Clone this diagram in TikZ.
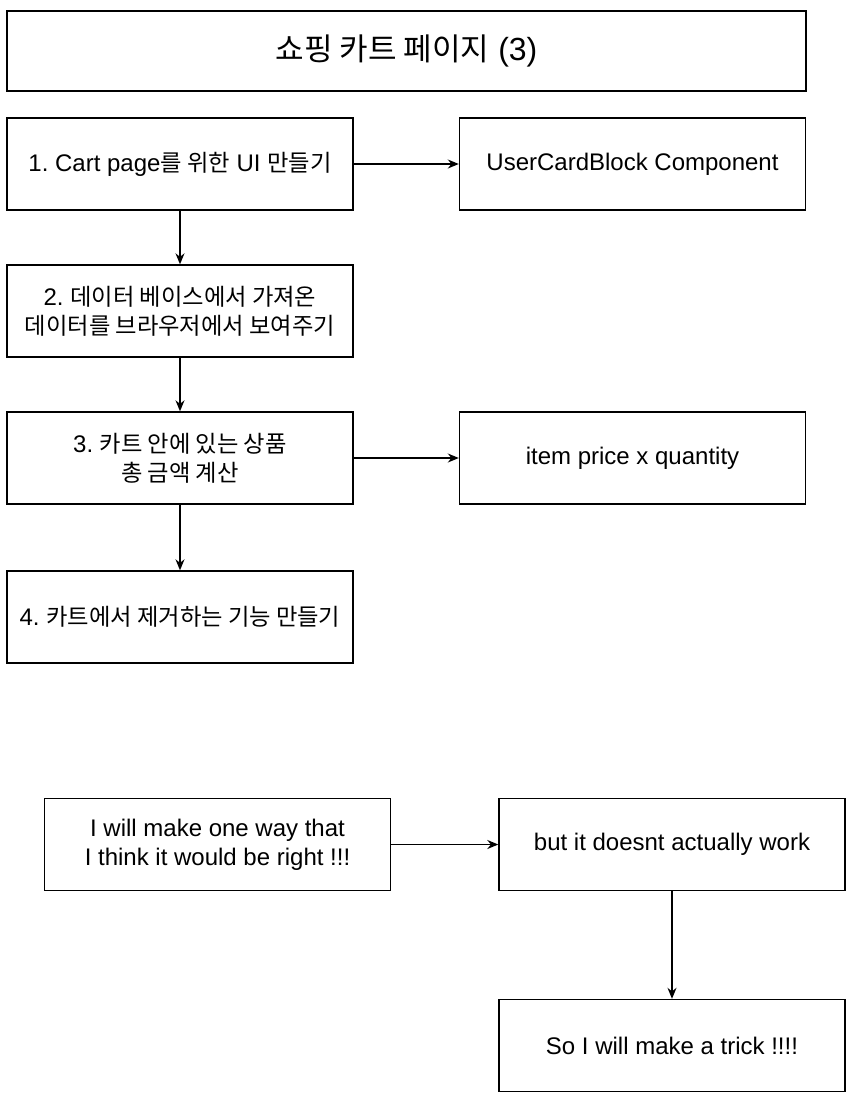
\documentclass[tikz,border=0pt]{standalone}
\usepackage{fontspec}
\setmainfont{Liberation Sans}
\newfontfamily\kr[Scale=0.97]{Noto Sans CJK KR}
\usetikzlibrary{arrows.meta}
\newcommand{\K}[1]{{\kr #1}}
\frenchspacing
\tikzset{
  box/.style={draw=black, line width=1.4pt, minimum width=346pt, minimum height=92pt, align=center, font=\fontsize{24}{29}\selectfont, inner sep=0pt},
  conn/.style={draw=black, line width=1.4pt, -{Stealth[length=11pt,width=9pt]}}
}
\begin{document}
\begin{tikzpicture}[x=1pt,y=-1pt]
\useasboundingbox (0,0) rectangle (864,1104);
\node[box, minimum width=799pt, minimum height=80pt, font=\fontsize{32}{36}\selectfont] (title) at (406.5,51) {\K{쇼핑 카트 페이지} (3)};
\node[box] (b1) at (180,164) {1. Cart page\K{를 위한} UI \K{만들기}};
\node[box] (ucb) at (632.5,164) {UserCardBlock Component};
\node[box] (b2) at (180,311) {2. \K{데이터 베이스에서 가져온}\\\K{데이터를 브라우저에서 보여주기}};
\node[box] (b3) at (180,458) {3. \K{카트 안에 있는 상품}\\\K{총 금액 계산}};
\node[box] (item) at (632.5,458) {item price x quantity};
\node[box] (b4) at (180,617) {4. \K{카트에서 제거하는 기능 만들기}};
\node[box] (a) at (217.5,844.5) {I will make one way that\\I think it would be right !!!};
\node[box] (b) at (672,844.5) {but it doesnt actually work};
\node[box] (c) at (672,1045.5) {So I will make a trick !!!!};
\draw[conn] (b1) -- (ucb);
\draw[conn] (b1) -- (b2);
\draw[conn] (b2) -- (b3);
\draw[conn] (b3) -- (item);
\draw[conn] (b3) -- (b4);
\draw[conn] (a) -- (b);
\draw[conn] (b) -- (c);
\end{tikzpicture}
\end{document}
